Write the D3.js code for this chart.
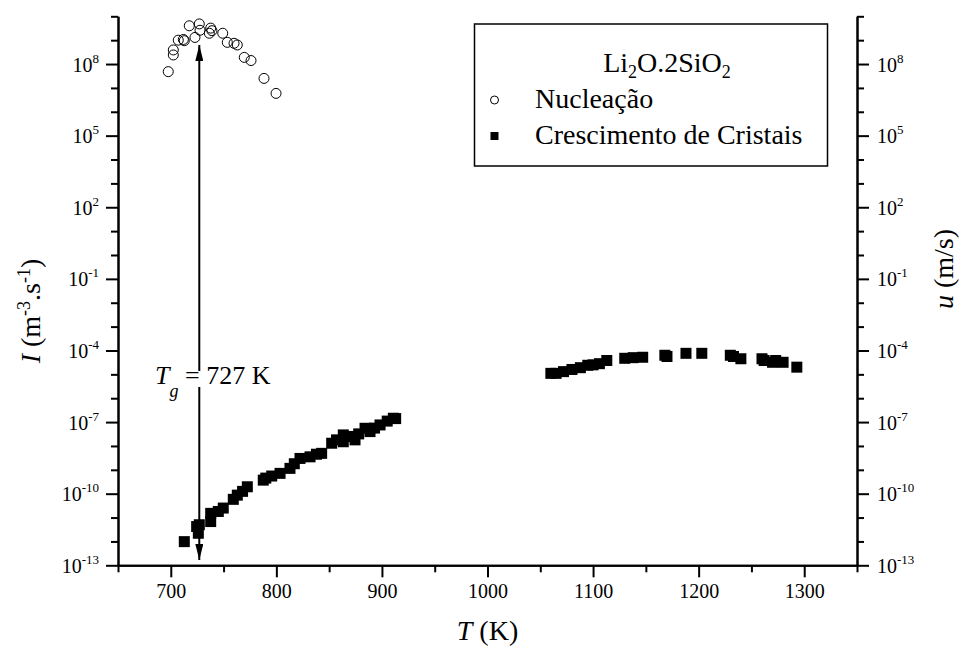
<!DOCTYPE html>
<html>
<head>
<meta charset="utf-8">
<script src="https://cdn.jsdelivr.net/npm/d3@7"></script>
<style>
  body { margin: 0; background: #fff; }
  svg { display: block; }
  text { font-family: "Liberation Serif", "Times New Roman", serif; fill: #000; }
</style>
</head>
<body>
<svg id="chart" width="964" height="650"></svg>
<script>
// Nucleation rate I (m^-3 s^-1) vs temperature
const nucT = [697.6, 702.4, 702.4, 707.1, 711.9, 712.8, 717.5, 722.9, 727.0, 727.7,
              736.5, 737.8, 739.0, 749.2, 753.5, 759.9, 763.0, 769.6, 776.0, 788.3, 799.7];
const nucI = [4.8e7, 2.4e8, 3.9e8, 1.0e9, 1.07e9, 9.5e8, 4.0e9, 1.3e9, 4.8e9, 2.6e9,
              1.95e9, 3.2e9, 2.5e9, 1.95e9, 8.1e8, 7.4e8, 6.3e8, 1.9e8, 1.4e8, 2.5e7, 5.9e6];

// Crystal growth rate u (m/s), low-temperature branch
const growLowT = [712.8, 724.5, 726.1, 727.0, 737.8, 737.8, 745.0, 749.7, 759.2, 763.0,
                  768.0, 772.5, 787.6, 790.0, 795.6, 803.5, 812.9, 817.0, 822.4, 831.9,
                  838.0, 842.9, 852.4, 857.0, 863.4, 863.4, 869.0, 874.5, 878.0, 884.0,
                  888.7, 893.0, 898.2, 905.0, 910.8, 913.0];
const growLowU = [9.8e-13, 4.2e-12, 2.2e-12, 5.0e-12, 1.5e-11, 6.8e-12, 1.8e-11, 2.5e-11, 5.8e-11, 8.7e-11,
                  1.25e-10, 1.95e-10, 3.7e-10, 4.5e-10, 5.5e-10, 7.1e-10, 1.15e-9, 1.8e-9, 3.0e-9, 3.5e-9,
                  4.5e-9, 4.9e-9, 1.3e-8, 1.8e-8, 2.9e-8, 1.5e-8, 2.5e-8, 1.8e-8, 3.2e-8, 5.5e-8,
                  4.0e-8, 5.6e-8, 7.6e-8, 1.1e-7, 1.45e-7, 1.4e-7];

// Crystal growth rate u (m/s), high-temperature branch
const growHighT = [1060, 1065, 1072, 1080, 1088, 1095, 1100, 1106, 1113, 1130, 1138, 1147,
                   1168, 1170, 1188, 1203, 1230, 1233, 1240, 1260, 1262, 1270, 1273, 1280, 1293];
const growHighU = [1.1e-5, 1.1e-5, 1.3e-5, 1.6e-5, 1.9e-5, 2.4e-5, 2.5e-5, 2.8e-5, 3.8e-5, 4.7e-5,
                   5.0e-5, 5.2e-5, 6.3e-5, 5.6e-5, 7.6e-5, 7.6e-5, 6.3e-5, 5.6e-5, 4.5e-5, 4.5e-5,
                   3.8e-5, 3.2e-5, 3.8e-5, 3.2e-5, 2.0e-5];

const xMajor = [700, 800, 900, 1000, 1100, 1200, 1300];
const xMinor = [650, 750, 850, 950, 1050, 1150, 1250, 1350];
const yMajorExp = [8, 5, 2, -1, -4, -7, -10, -13];
const yMinorExp = [10, 9, 7, 6, 4, 3, 1, 0, -2, -3, -5, -6, -8, -9, -11, -12];

const Tg = 727;
const legendTitle = ["Li", "2", "O.2SiO", "2"];
const legendNames = ["Nucleação", "Crescimento de Cristais"];

const svg = d3.select("#chart");
const plotL = 118, plotR = 857, plotT = 16.3, plotB = 565.3;

const x = d3.scaleLinear().domain([650, 1350]).range([plotL, plotR]);
const y = d3.scaleLog().domain([1e-13, 1e10]).range([plotB, plotT]);

function styleAxis(g) {
  g.select(".domain").attr("stroke", "#000").attr("stroke-width", 2);
  g.selectAll(".tick line").attr("stroke", "#000").attr("stroke-width", 2);
  g.selectAll(".tick text").remove();
}

// x axis
svg.append("g").attr("transform", `translate(0,${plotB})`)
  .call(d3.axisBottom(x).tickValues(xMinor).tickSize(7).tickSizeOuter(0).tickFormat(""))
  .call(styleAxis);
const gx = svg.append("g").attr("transform", `translate(0,${plotB})`)
  .call(d3.axisBottom(x).tickValues(xMajor).tickSize(12).tickSizeOuter(0).tickFormat(""))
  .call(styleAxis);
gx.selectAll(".tick").append("text")
  .attr("y", 33).attr("text-anchor", "middle").style("font-size", "20px")
  .text(d => d);

// y axes (left and right share the same log scale)
const minorY = yMinorExp.map(e => Math.pow(10, e));
const majorY = yMajorExp.map(e => Math.pow(10, e));

function expLabel(sel, anchor, dx) {
  sel.each(function(d, i) {
    const t = d3.select(this).append("text")
      .attr("x", dx).attr("y", 7).attr("text-anchor", anchor).style("font-size", "20px");
    t.append("tspan").text("10");
    t.append("tspan").attr("dy", -9).style("font-size", "13px").text(String(yMajorExp[i]));
  });
}

svg.append("g").attr("transform", `translate(${plotL},0)`)
  .call(d3.axisLeft(y).tickValues(minorY).tickSize(7).tickSizeOuter(0).tickFormat(""))
  .call(styleAxis);
const gyl = svg.append("g").attr("transform", `translate(${plotL},0)`)
  .call(d3.axisLeft(y).tickValues(majorY).tickSize(12).tickSizeOuter(0).tickFormat(""))
  .call(styleAxis);
expLabel(gyl.selectAll(".tick"), "end", -19);

svg.append("g").attr("transform", `translate(${plotR},0)`)
  .call(d3.axisRight(y).tickValues(minorY).tickSize(7).tickSizeOuter(0).tickFormat(""))
  .call(styleAxis);
const gyr = svg.append("g").attr("transform", `translate(${plotR},0)`)
  .call(d3.axisRight(y).tickValues(majorY).tickSize(12).tickSizeOuter(0).tickFormat(""))
  .call(styleAxis);
expLabel(gyr.selectAll(".tick"), "start", 20);

// axis titles
const xt = svg.append("text").attr("x", (plotL + plotR) / 2).attr("y", 640)
  .attr("text-anchor", "middle").style("font-size", "28px");
xt.append("tspan").style("font-style", "italic").text("T");
xt.append("tspan").text(" (K)");

const ylt = svg.append("text")
  .attr("transform", `translate(40,311) rotate(-90)`)
  .attr("text-anchor", "middle").style("font-size", "28px");
ylt.append("tspan").style("font-style", "italic").text("I");
ylt.append("tspan").text(" (m");
ylt.append("tspan").attr("dy", -10).style("font-size", "18px").text("-3");
ylt.append("tspan").attr("dy", 10).text(".s");
ylt.append("tspan").attr("dy", -10).style("font-size", "18px").text("-1");
ylt.append("tspan").attr("dy", 10).text(")");

const yrt = svg.append("text")
  .attr("transform", `translate(953,269) rotate(-90)`)
  .attr("text-anchor", "middle").style("font-size", "28px");
yrt.append("tspan").style("font-style", "italic").text("u");
yrt.append("tspan").text(" (m/s)");

// data marks
const nuc = d3.zip(nucT, nucI);
svg.append("g").selectAll("circle").data(nuc).join("circle")
  .attr("cx", d => x(d[0])).attr("cy", d => y(d[1])).attr("r", 5)
  .attr("fill", "none").attr("stroke", "#000").attr("stroke-width", 1);

const grow = d3.zip(growLowT, growLowU).concat(d3.zip(growHighT, growHighU));
const sq = 11;
svg.append("g").selectAll("rect").data(grow).join("rect")
  .attr("x", d => x(d[0]) - sq / 2).attr("y", d => y(d[1]) - sq / 2)
  .attr("width", sq).attr("height", sq).attr("fill", "#000");

// Tg marker: double-headed arrow interrupted by its label
const tgX = x(Tg);
const defs = svg.append("defs");
defs.append("marker").attr("id", "headArrow").attr("viewBox", "0 0 16 8")
  .attr("refX", 16).attr("refY", 4).attr("markerWidth", 16).attr("markerHeight", 8)
  .attr("markerUnits", "userSpaceOnUse").attr("orient", "auto")
  .append("path").attr("d", "M0,0 L16,4 L0,8 Z").attr("fill", "#000");

svg.append("line").attr("x1", tgX).attr("x2", tgX).attr("y1", 371).attr("y2", 45)
  .attr("stroke", "#000").attr("stroke-width", 2).attr("marker-end", "url(#headArrow)");
svg.append("line").attr("x1", tgX).attr("x2", tgX).attr("y1", 387).attr("y2", 560)
  .attr("stroke", "#000").attr("stroke-width", 2).attr("marker-end", "url(#headArrow)");

const tgText = svg.append("text").attr("x", 155).attr("y", 384).style("font-size", "26px");
tgText.append("tspan").style("font-style", "italic").text("T");
tgText.append("tspan").attr("dy", 13).style("font-style", "italic").style("font-size", "18px").text("g");
tgText.append("tspan").attr("dy", -13).text(" = " + Tg + " K");

// legend
const lg = svg.append("g");
lg.append("rect").attr("x", 474.5).attr("y", 24).attr("width", 353).attr("height", 142)
  .attr("fill", "#fff").attr("stroke", "#000").attr("stroke-width", 1.5);
const lt = lg.append("text").attr("x", 667).attr("y", 72).attr("text-anchor", "middle")
  .style("font-size", "28px");
lt.append("tspan").text(legendTitle[0]);
lt.append("tspan").attr("dy", 6).style("font-size", "18px").text(legendTitle[1]);
lt.append("tspan").attr("dy", -6).text(legendTitle[2]);
lt.append("tspan").attr("dy", 6).style("font-size", "18px").text(legendTitle[3]);

lg.append("circle").attr("cx", 494.5).attr("cy", 100).attr("r", 4)
  .attr("fill", "none").attr("stroke", "#000").attr("stroke-width", 1);
lg.append("rect").attr("x", 490.5).attr("y", 132).attr("width", 8).attr("height", 8).attr("fill", "#000");
lg.append("text").attr("x", 535).attr("y", 108).style("font-size", "28px").text(legendNames[0]);
lg.append("text").attr("x", 535).attr("y", 144).style("font-size", "28px").text(legendNames[1]);
</script>
</body>
</html>
